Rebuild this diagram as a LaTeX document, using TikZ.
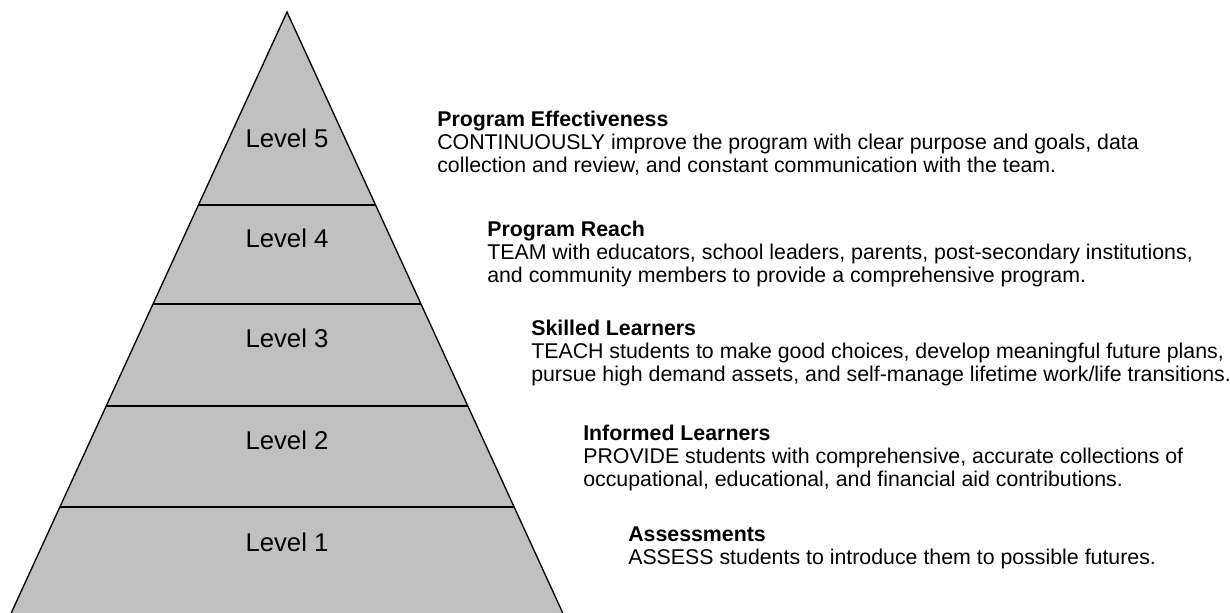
\documentclass[tikz,border=0pt]{standalone}
\usepackage{fontspec}
\setmainfont{Liberation Sans}
\usetikzlibrary{calc}

\definecolor{pyrgray}{RGB}{192,192,192}

\tikzset{
    levellabel/.style={inner sep=0pt, font=\fontsize{19.3}{23}\selectfont},
    desc/.style={anchor=north west, inner sep=0pt, align=left,
        font=\fontsize{16}{17.25}\selectfont},
}

\begin{document}
\begin{tikzpicture}[x=0.75pt,y=-0.75pt]
    \useasboundingbox (0,0) rectangle (1230,612);
    \clip (0,0) rectangle (1230,612);

    % Pyramid
    \coordinate (apex) at (287,12);
    \coordinate (bl) at (8,620);
    \coordinate (br) at (566,620);
    \draw[line width=1pt, fill=pyrgray] (apex) -- (br) -- (bl) -- cycle;

    % Level dividers
    \foreach \t in {0.3174,0.4803,0.648,0.8141}
        \draw[line width=1pt] ($(apex)!\t!(bl)$) -- ($(apex)!\t!(br)$);

    % Level labels
    \node[levellabel] (lvl5) at (287,138) {Level 5};
    \node[levellabel] (lvl4) at (287,238) {Level 4};
    \node[levellabel] (lvl3) at (287,338) {Level 3};
    \node[levellabel] (lvl2) at (287,440) {Level 2};
    \node[levellabel] (lvl1) at (287,542) {Level 1};

    % Descriptions
    \node[desc] (effect) at (437,111) {\textbf{Program Effectiveness}\\
        CONTINUOUSLY improve the program with clear purpose and goals, data\\
        collection and review, and constant communication with the team.};
    \node[desc] (reach) at (487,221) {\textbf{Program Reach}\\
        TEAM with educators, school leaders, parents, post-secondary institutions,\\
        and community members to provide a comprehensive program.};
    \node[desc] (skilled) at (531,320) {\textbf{Skilled Learners}\\
        TEACH students to make good choices, develop meaningful future plans,\\
        pursue high demand assets, and self-manage lifetime work/life transitions.};
    \node[desc] (informed) at (583,425) {\textbf{Informed Learners}\\
        PROVIDE students with comprehensive, accurate collections of\\
        occupational, educational, and financial aid contributions.};
    \node[desc] (assess) at (628,527) {\textbf{Assessments}\\
        ASSESS students to introduce them to possible futures.};
\end{tikzpicture}
\end{document}
